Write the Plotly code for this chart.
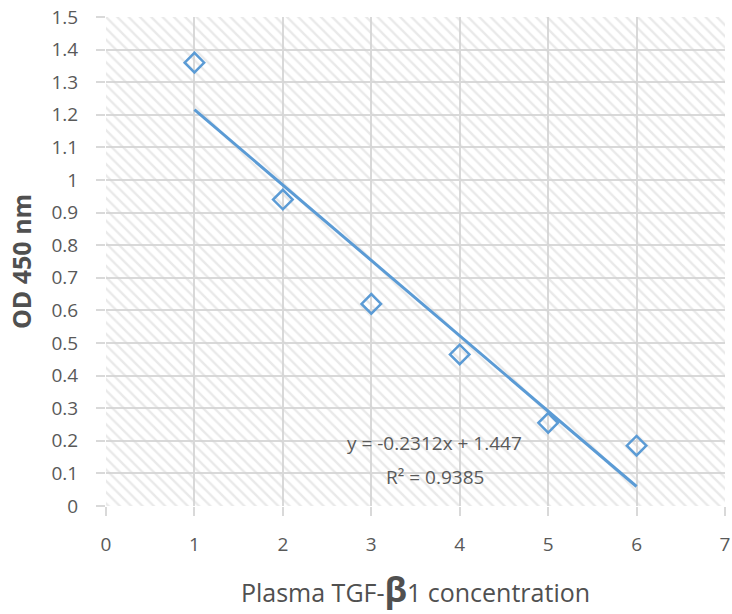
import plotly.graph_objects as go

# TGF-beta1 level (group index) vs OD 450 nm
conc = [1, 2, 3, 4, 5, 6]
od450 = [1.36, 0.94, 0.62, 0.465, 0.255, 0.185]

# linear trendline as reported on the chart
slope = -0.2312
intercept = 1.447
r_squared = 0.9385

x_range = [0, 7]
y_range = [0, 1.5]

blue = '#5b9bd5'
grid = '#d9d9d9'
txt = '#595959'

trend_x = [conc[0], conc[-1]]
trend_y = [slope * x + intercept for x in trend_x]

fig = go.Figure()

# hatched plot background
fig.add_trace(go.Scatter(
    x=[x_range[0], x_range[1], x_range[1], x_range[0], x_range[0]],
    y=[y_range[0], y_range[0], y_range[1], y_range[1], y_range[0]],
    mode='none',
    fill='toself',
    fillcolor='rgba(0,0,0,0)',
    fillpattern=dict(shape='\\', fgcolor='#d4d4d4', bgcolor='rgba(0,0,0,0)',
                     size=8, solidity=0.3),
    hoverinfo='skip',
    showlegend=False,
))

fig.add_trace(go.Scatter(
    x=trend_x, y=trend_y,
    mode='lines',
    line=dict(color=blue, width=3),
    showlegend=False,
))

fig.add_trace(go.Scatter(
    x=conc, y=od450,
    mode='markers',
    marker=dict(symbol='diamond-open', size=15, color=blue, line=dict(width=2.5, color=blue)),
    showlegend=False,
))

# trendline label, two lines with wide spacing
fig.add_annotation(x=3.72, y=0.193, text=f'y = {slope}x + {intercept}',
                   showarrow=False, font=dict(size=19, color=txt))
fig.add_annotation(x=3.72, y=0.089, text=f'R² = {r_squared}',
                   showarrow=False, font=dict(size=19, color=txt))

axis_common = dict(
    showgrid=True, gridcolor=grid, gridwidth=1.5,
    zeroline=False, showline=False,
    ticks='outside', ticklen=9, tickcolor=grid, tickwidth=1.5,
    tickfont=dict(size=19, color=txt),
    automargin=False,
    ticklabeloverflow='allow',
)

fig.update_layout(
    width=732, height=614,
    margin=dict(l=106, r=7, t=17, b=108),
    paper_bgcolor='white',
    plot_bgcolor='white',
    font=dict(family='Open Sans, Noto Sans, sans-serif', color=txt),
    xaxis=dict(
        range=x_range, dtick=1,
        title=dict(text="Plasma TGF-<b><span style='font-size:34px'>β</span></b>1 concentration",
                   font=dict(size=25, color='#505050'), standoff=28),
        ticklabelstandoff=12,
        **axis_common,
    ),
    yaxis=dict(
        range=y_range, dtick=0.1, tickformat='~g',
        title=dict(text='<b>OD 450 nm</b>', font=dict(size=25, color='#505050'), standoff=12),
        ticklabelstandoff=14,
        **axis_common,
    ),
)

# drop the default 8px body margin so the figure fills the window exactly
fig.write_html('out.html', config={'displayModeBar': False},
               post_script="document.body.style.margin='0px';")
